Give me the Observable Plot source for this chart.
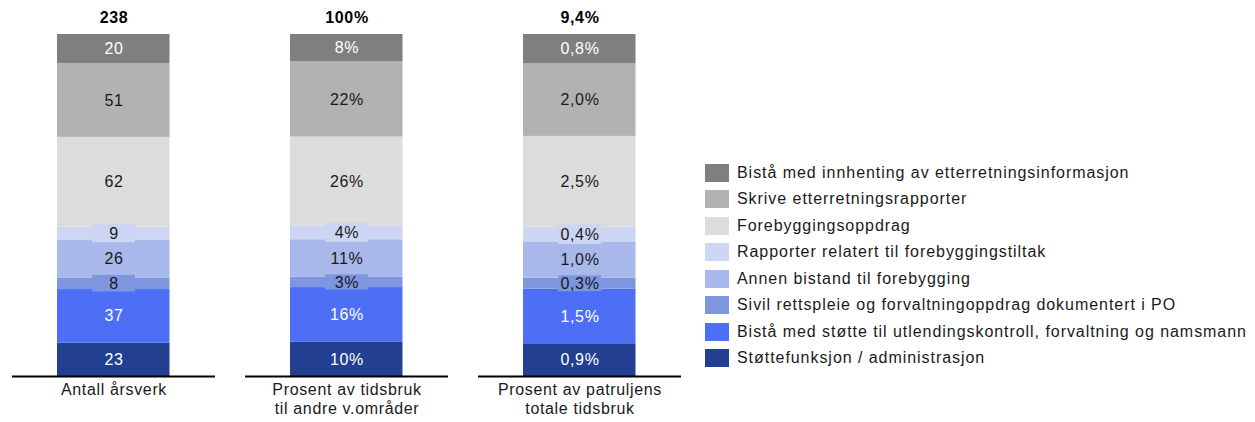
<!DOCTYPE html>
<html>
<head>
<meta charset="utf-8">
<script src="https://cdn.jsdelivr.net/npm/d3@7"></script>
<script src="https://cdn.jsdelivr.net/npm/@observablehq/plot@0.6"></script>
<style>
  html, body { margin: 0; padding: 0; background: #fff; }
  #wrap { position: relative; width: 1255px; height: 422px; font-family: "Liberation Sans", Arial, sans-serif; }
  #chart { position: absolute; left: 0; top: 0; }
  #legend { position: absolute; left: 705px; top: 164px; font-size: 16px; color: #1a1a1a; letter-spacing: 0.95px; white-space: nowrap; }
  .row { display: flex; align-items: center; height: 18px; margin-bottom: 8.45px; }
  .sw { width: 24px; height: 18px; margin-right: 8px; flex: none; }
</style>
</head>
<body>
<div id="wrap">
  <div id="chart"></div>
  <div id="legend"></div>
</div>
<script>
// Categories (columns)
const categories = ["Antall årsverk", "Prosent av tidsbruk\ntil andre v.områder", "Prosent av patruljens\ntotale tidsbruk"];
const totals = ["238", "100%", "9,4%"];

// Activities, bottom to top of the stack
const activities = [
  "Støttefunksjon / administrasjon",
  "Bistå med støtte til utlendingskontroll, forvaltning og namsmann",
  "Sivil rettspleie og forvaltningoppdrag dokumentert i PO",
  "Annen bistand til forebygging",
  "Rapporter relatert til forebyggingstiltak",
  "Forebyggingsoppdrag",
  "Skrive etterretningsrapporter",
  "Bistå med innhenting av etterretningsinformasjon"
];
const colors = ["#233f91", "#4d6ff5", "#7e95e0", "#a9b8ea", "#ccd5f2", "#dcdcdc", "#b2b2b2", "#7f7f7f"];
const darkActivities = ["Støttefunksjon / administrasjon", "Bistå med støtte til utlendingskontroll, forvaltning og namsmann", "Bistå med innhenting av etterretningsinformasjon"];
const boxedActivities = ["Sivil rettspleie og forvaltningoppdrag dokumentert i PO", "Rapporter relatert til forebyggingstiltak"];

// Series values (same order as activities)
const aarsverk = [23, 37, 8, 26, 9, 62, 51, 20];
const prosentAndre = [10, 16, 3, 11, 4, 26, 22, 8];
const prosentTotal = [0.9, 1.5, 0.3, 1.0, 0.4, 2.5, 2.0, 0.8];

const series = [aarsverk, prosentAndre, prosentTotal];
const formats = [
  v => String(v),
  v => v + "%",
  v => v.toFixed(1).replace(".", ",") + "%"
];

const data = [];
categories.forEach((cat, ci) => {
  activities.forEach((act, ai) => {
    data.push({cat, act, value: series[ci][ai], label: formats[ci](series[ci][ai])});
  });
});

const font = "Liberation Sans, Arial, sans-serif";

const chart = Plot.plot({
  width: 700,
  height: 422,
  marginTop: 34,
  marginBottom: 46,
  marginLeft: 0,
  marginRight: 0,
  style: {fontFamily: font, fontSize: "16px", background: "white", letterSpacing: "0.65px"},
  x: {domain: categories, range: [-4.25, 696.25], padding: 0, axis: null},
  y: {domain: [0, 1], axis: null},
  color: {domain: activities, range: colors},
  marks: [
    Plot.barY(data, Plot.stackY({
      x: "cat", y: "value", z: "act", fill: "act", offset: "normalize",
      insetLeft: 60, insetRight: 60.5
    })),
    Plot.barY(data, Plot.stackY({
      x: "cat", y: "value", z: "act", fill: "act", offset: "normalize",
      fillOpacity: d => boxedActivities.includes(d.act) ? 1 : 0,
      insetLeft: 95, insetRight: 95, insetTop: -2.5, insetBottom: -2.5
    })),
    Plot.text(data, Plot.stackY({
      x: "cat", y: "value", z: "act", text: "label", offset: "normalize",
      fill: d => darkActivities.includes(d.act) ? "#ffffff" : "#1a1a1a",
      fontSize: 16
    })),
    Plot.tickY(categories, {x: d => d, y: () => 0, stroke: "#000", strokeWidth: 2.2, insetLeft: 15, insetRight: 15}),
    Plot.text(categories, {x: d => d, y: () => 1, text: (d, i) => totals[i], dy: -17, fontWeight: "bold", fontSize: 16, fill: "#000"}),
    Plot.text(categories, {x: d => d, y: () => 0, text: d => d, lineAnchor: "top", dy: 5, fontSize: 16, fill: "#1a1a1a", lineHeight: 1.2})
  ]
});
document.getElementById("chart").appendChild(chart);

// Legend (top to bottom = reversed stack order)
const legend = document.getElementById("legend");
activities.slice().reverse().forEach(act => {
  const i = activities.indexOf(act);
  const row = document.createElement("div");
  row.className = "row";
  const sw = document.createElement("div");
  sw.className = "sw";
  sw.style.background = colors[i];
  const label = document.createElement("span");
  label.textContent = act;
  row.appendChild(sw);
  row.appendChild(label);
  legend.appendChild(row);
});
</script>
</body>
</html>
